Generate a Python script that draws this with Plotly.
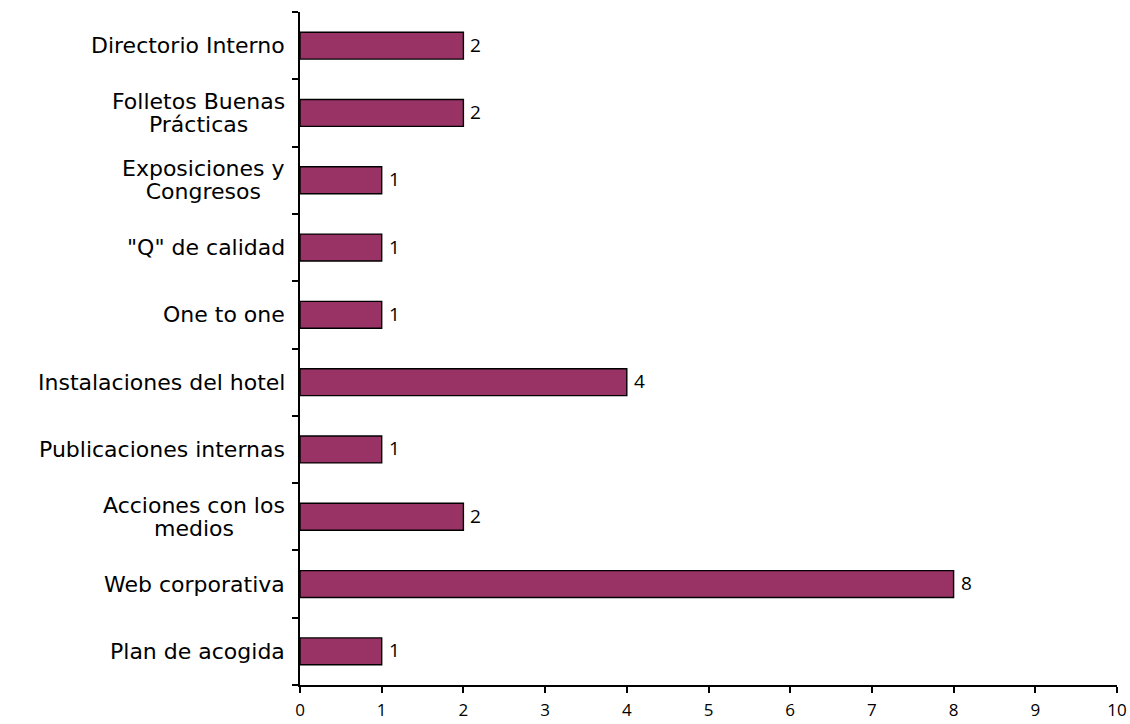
import plotly.graph_objects as go

categories = [
    "Plan de acogida",
    "Web corporativa",
    "Acciones con los<br>medios",
    "Publicaciones internas",
    "Instalaciones del hotel ",
    "One to one",
    "\"Q\" de calidad",
    "Exposiciones y<br>Congresos",
    "Folletos Buenas<br>Prácticas",
    "Directorio Interno",
]
values = [1, 8, 2, 1, 4, 1, 1, 1, 2, 2]
x_ticks = [0, 1, 2, 3, 4, 5, 6, 7, 8, 9, 10]

fig = go.Figure()
fig.add_trace(go.Bar(
    x=values, y=categories, orientation="h",
    marker=dict(color="#993366", line=dict(color="black", width=1.4)),
    width=0.4,
    hoverinfo="skip",
))

# value labels
for v, c in zip(values, categories):
    fig.add_annotation(x=v, y=c, text=str(v), showarrow=False,
                       xanchor="left", xshift=5, yshift=1,
                       font=dict(family="Open Sans", size=19, color="black"))

# category labels (centered multi-line, right-aligned block, tight line spacing)
for c in categories:
    lines = c.rstrip().split("<br>")
    txt = "<br>".join('<span style="font-size:22px">%s</span>' % ln for ln in lines)
    fig.add_annotation(xref="paper", x=0, y=c, yref="y", text=txt,
                       showarrow=False, xanchor="right", xshift=-13,
                       align="center",
                       font=dict(family="DejaVu Sans", size=17.7, color="black"))

fig.update_layout(
    width=1130, height=724,
    margin=dict(l=300, r=13, t=12, b=39),
    paper_bgcolor="white", plot_bgcolor="white",
    showlegend=False,
    font=dict(family="DejaVu Sans", color="black"),
    xaxis=dict(
        range=[0, 10], tickvals=x_ticks, ticktext=[str(t) for t in x_ticks],
        showgrid=False, zeroline=False, automargin=False,
        showline=True, linecolor="black", linewidth=1.6,
        ticks="outside", ticklen=6, tickcolor="black", tickwidth=1.6,
        ticklabelstandoff=3,
        tickfont=dict(family="Open Sans", size=17, color="black"),
        fixedrange=True,
    ),
    yaxis=dict(
        categoryorder="array", categoryarray=categories,
        range=[-0.5, 9.5],
        showgrid=False, zeroline=False, automargin=False,
        showline=True, linecolor="black", linewidth=1.6,
        ticks="outside", ticklen=6, tickcolor="black", tickwidth=1.6,
        tickson="boundaries",
        showticklabels=False,
        fixedrange=True,
    ),
)

fig.write_html("out.html", config={"displayModeBar": False},
               post_script="document.body.style.margin='0';document.body.style.overflow='hidden';")
